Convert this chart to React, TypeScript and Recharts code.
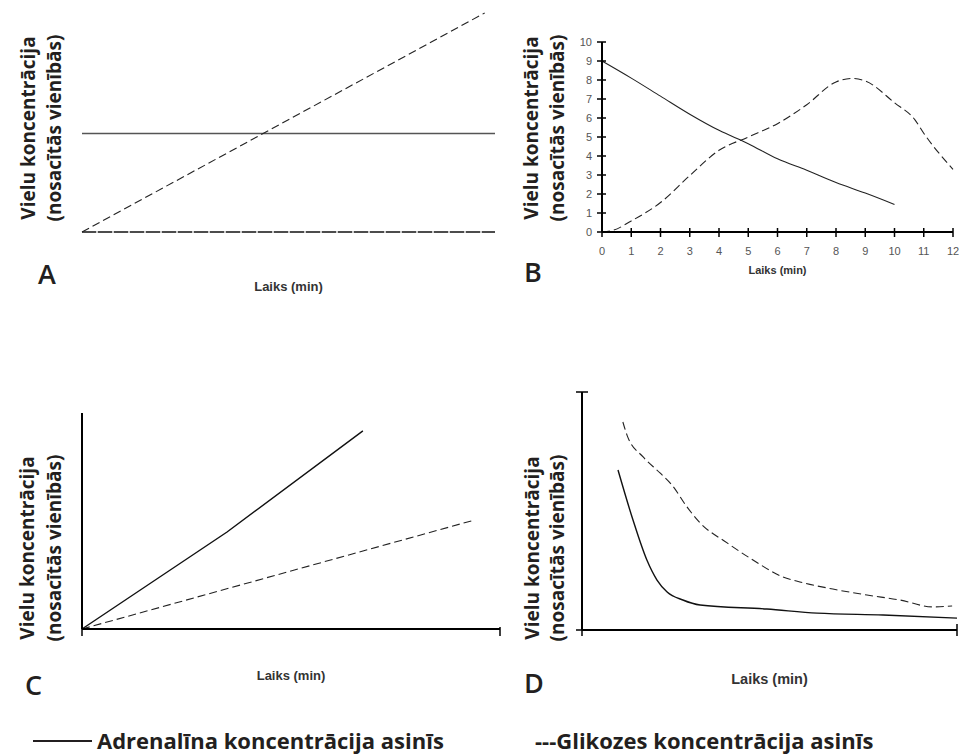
import { LineChart, Line, XAxis, YAxis, ReferenceLine } from "recharts";

// --- A: adrenalīns nemainās, glikoze aug
const aAdrenalineTime = [0, 10];
const aAdrenaline = [4.5, 4.5];
const aGlucoseTime = [0, 9.75];
const aGlucose = [0, 10];

// --- B: skaitliskais grafiks
const bAdrenalineTime = [0, 1, 2, 3, 4, 5, 6, 7, 8, 9, 10];
const bAdrenaline = [9, 8.1, 7.15, 6.2, 5.35, 4.65, 3.85, 3.25, 2.6, 2.05, 1.45];
const bGlucoseTime = [0, 0.4, 1, 2, 3, 4, 5, 6, 7, 8, 8.55, 9, 10, 10.7, 11, 12];
const bGlucose = [0, 0.1, 0.58, 1.55, 2.97, 4.3, 5.0, 5.7, 6.7, 7.9, 8.08, 7.95, 6.8, 5.9, 5.2, 3.3];
const bTicksX = [0, 1, 2, 3, 4, 5, 6, 7, 8, 9, 10, 11, 12];
const bTicksY = [0, 1, 2, 3, 4, 5, 6, 7, 8, 9, 10];

// --- C: abi aug
const cAdrenalineTime = [0, 3.47, 6.72];
const cAdrenaline = [0, 4.49, 9.17];
const cGlucoseTime = [0, 9.4];
const cGlucose = [0, 5.05];

// --- D: abi krītas
const dAdrenalineTime = [0.96, 1.36, 1.73, 2.0, 2.27, 2.69, 3.15, 4.93, 6.27, 8.03, 10];
const dAdrenaline = [6.72, 4.62, 2.94, 2.1, 1.6, 1.26, 1.05, 0.88, 0.71, 0.63, 0.5];
const dGlucoseTime = [1.09, 1.2, 1.63, 2.08, 2.4, 2.8, 3.15, 3.87, 4.56, 5.36, 5.81, 6.69, 7.6, 8.48, 9.36, 9.87];
const dGlucose = [8.74, 8.19, 7.27, 6.6, 6.09, 5.17, 4.5, 3.66, 2.94, 2.23, 2.02, 1.72, 1.47, 1.26, 0.97, 1.01];
const edgeTicks = [0, 10];

const yTitleTop = "Vielu koncentrācija";
const yTitleBottom = "(nosacītās vienībās)";
const xTitle = "Laiks (min)";
const legendAdrenaline = "Adrenalīna koncentrācija asinīs";
const legendGlucose = "---Glikozes koncentrācija asinīs";

const toPoints = (xs: number[], ys: number[]) => xs.map((x, i) => ({ x, y: ys[i] }));

const INK = "#231f20";
const DASH = "8 4";

const titleStyle = { fontFamily: "'Open Sans', sans-serif", fontWeight: 700, fontSize: 19, fill: INK };
const legendStyle = { fontFamily: "'Open Sans', sans-serif", fontWeight: 700, fontSize: 22, fill: INK };

const YTitle = (props: any) => {
  const { x1, x2, cy } = props;
  return (
    <g>
      <text transform={`translate(${x1},${cy}) rotate(-90)`} textAnchor="middle" dominantBaseline="central" style={titleStyle}>
        {yTitleTop}
      </text>
      <text transform={`translate(${x2},${cy}) rotate(-90)`} textAnchor="middle" dominantBaseline="central" style={titleStyle}>
        {yTitleBottom}
      </text>
    </g>
  );
};

const XTitle = (props: any) => {
  const { viewBox, dy, size, letter, lx, ly } = props;
  const cx = viewBox.x + viewBox.width / 2;
  return (
    <g>
      <text x={cx} y={viewBox.y + dy} textAnchor="middle" style={{ fontFamily: "'Liberation Sans', Arial, sans-serif", fontWeight: 700, fontSize: size, fill: "#333" }}>
        {xTitle}
      </text>
      <text x={lx} y={ly} style={{ fontFamily: "'Open Sans', sans-serif", fontWeight: 600, fontSize: 27, fill: INK }}>
        {letter}
      </text>
    </g>
  );
};

// ass iedaļa, kas šķērso asi, ar vai bez skaitļa
const XMark = (props: any) => {
  const { x, y, payload, up = 4, down = 5, showText } = props;
  return (
    <g>
      <line x1={x} x2={x} y1={y - up} y2={y + down} stroke="#000" strokeWidth={1.5} />
      {showText && (
        <text x={x} y={y + 23} textAnchor="middle" style={{ fontFamily: "'Liberation Sans', Arial, sans-serif", fontSize: 11, fill: "#555" }}>
          {payload.value}
        </text>
      )}
    </g>
  );
};

const YMark = (props: any) => {
  const { x, y, payload, left = 5, right = 4, showText } = props;
  return (
    <g>
      <line x1={x - left} x2={x + right} y1={y} y2={y} stroke="#000" strokeWidth={1.5} />
      {showText && (
        <text x={x - 10} y={y} textAnchor="end" dominantBaseline="central" style={{ fontFamily: "'Liberation Sans', Arial, sans-serif", fontSize: 11, fill: "#555" }}>
          {payload.value}
        </text>
      )}
    </g>
  );
};

const axisLine = { stroke: "#000", strokeWidth: 2 };

export default function App() {
  return (
    <div style={{ position: "absolute", left: 0, top: 0, width: 959, height: 756, background: "#fff" }}>
      {/* A */}
      <div style={{ position: "absolute", left: 0, top: 0 }}>
        <LineChart width={500} height={300} margin={{ top: 13, right: 5, bottom: 38, left: 0 }}>
          <XAxis type="number" dataKey="x" domain={[0, 10]} height={30} tick={false} tickLine={false}
            axisLine={{ stroke: "#222", strokeWidth: 1.5, strokeDasharray: "14 2" }}
            label={<XTitle dy={59} size={13} letter="A" lx={38} ly={284} />} />
          <YAxis type="number" domain={[0, 10]} width={82} tick={false} tickLine={false} axisLine={false}
            label={<YTitle x1={28} x2={54} cy={128} />} />
          <ReferenceLine y={0} stroke="#999" strokeWidth={1} />
          <Line data={toPoints(aAdrenalineTime, aAdrenaline)} dataKey="y" type="linear" stroke="#555" strokeWidth={1.4} dot={false} isAnimationActive={false} />
          <Line data={toPoints(aGlucoseTime, aGlucose)} dataKey="y" type="linear" stroke="#222" strokeWidth={1.1} strokeDasharray={DASH} dot={false} isAnimationActive={false} />
        </LineChart>
      </div>

      {/* B */}
      <div style={{ position: "absolute", left: 500, top: 0 }}>
        <LineChart width={459} height={300} margin={{ top: 42, right: 6, bottom: 38, left: 0 }}>
          <XAxis type="number" dataKey="x" domain={[0, 12]} ticks={bTicksX} interval={0} height={30} tickSize={0} tickMargin={0} tickLine={false}
            axisLine={axisLine} tick={<XMark showText up={4} down={5} />}
            label={<XTitle dy={42} size={11} letter="B" lx={24} ly={282} />} />
          <YAxis type="number" domain={[0, 10]} ticks={bTicksY} interval={0} width={102} tickSize={0} tickMargin={0} tickLine={false}
            axisLine={axisLine} tick={<YMark showText left={5} right={4} />}
            label={<YTitle x1={31} x2={57} cy={128} />} />
          <Line data={toPoints(bAdrenalineTime, bAdrenaline)} dataKey="y" type="monotone" stroke="#222" strokeWidth={1.1} dot={false} isAnimationActive={false} />
          <Line data={toPoints(bGlucoseTime, bGlucose)} dataKey="y" type="monotone" stroke="#222" strokeWidth={1.1} strokeDasharray={DASH} dot={false} isAnimationActive={false} />
        </LineChart>
      </div>

      {/* C */}
      <div style={{ position: "absolute", left: 0, top: 380 }}>
        <LineChart width={505} height={335} margin={{ top: 33, right: 5, bottom: 56, left: 0 }}>
          <XAxis type="number" dataKey="x" domain={[0, 10]} ticks={edgeTicks} interval={0} height={30} tickSize={0} tickMargin={0} tickLine={false}
            axisLine={axisLine} tick={<XMark up={2} down={7} />}
            label={<XTitle dy={51} size={13} letter="C" lx={25} ly={315} />} />
          <YAxis type="number" domain={[0, 10]} width={82} tick={false} tickLine={false} axisLine={axisLine}
            label={<YTitle x1={27} x2={54} cy={168} />} />
          <Line data={toPoints(cAdrenalineTime, cAdrenaline)} dataKey="y" type="linear" stroke="#111" strokeWidth={1.4} dot={false} isAnimationActive={false} />
          <Line data={toPoints(cGlucoseTime, cGlucose)} dataKey="y" type="linear" stroke="#222" strokeWidth={1.1} strokeDasharray={DASH} dot={false} isAnimationActive={false} />
        </LineChart>
      </div>

      {/* D */}
      <div style={{ position: "absolute", left: 500, top: 380 }}>
        <LineChart width={459} height={335} margin={{ top: 12, right: 2, bottom: 55, left: 0 }}>
          <XAxis type="number" dataKey="x" domain={[0, 10]} ticks={edgeTicks} interval={0} height={30} tickSize={0} tickMargin={0} tickLine={false}
            axisLine={axisLine} tick={<XMark up={6} down={6} />}
            label={<XTitle dy={54} size={14.5} letter="D" lx={24} ly={313} />} />
          <YAxis type="number" domain={[0, 10]} ticks={edgeTicks} interval={0} width={82} tickSize={0} tickMargin={0} tickLine={false}
            axisLine={axisLine} tick={<YMark left={6} right={6} />}
            label={<YTitle x1={32} x2={57} cy={168} />} />
          <Line data={toPoints(dAdrenalineTime, dAdrenaline)} dataKey="y" type="monotone" stroke="#111" strokeWidth={1.4} dot={false} isAnimationActive={false} />
          <Line data={toPoints(dGlucoseTime, dGlucose)} dataKey="y" type="monotone" stroke="#222" strokeWidth={1.1} strokeDasharray={DASH} dot={false} isAnimationActive={false} />
        </LineChart>
      </div>

      {/* leģenda */}
      <svg width={959} height={56} style={{ position: "absolute", left: 0, top: 700 }}>
        <line x1={33} x2={92} y1={41} y2={41} stroke={INK} strokeWidth={2.2} />
        <text x={97} y={49} style={legendStyle}>
          {legendAdrenaline}
        </text>
        <text x={535} y={49} style={legendStyle}>
          {legendGlucose}
        </text>
      </svg>
    </div>
  );
}
